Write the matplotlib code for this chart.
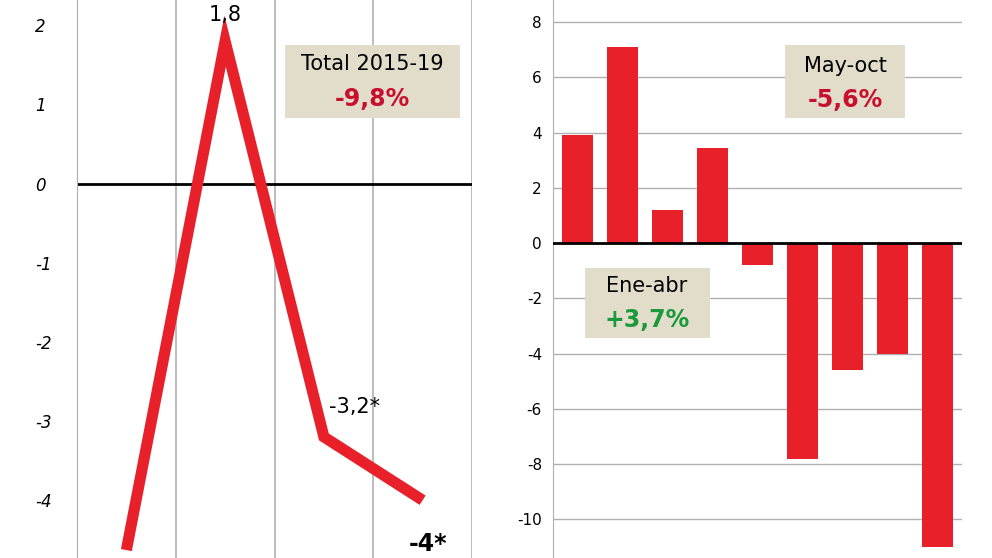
import matplotlib.pyplot as plt
from matplotlib.patches import Rectangle
import numpy as np

line_x = [0.5, 1.5, 2.5, 3.5]
line_y = [-4.63, 1.8, -3.2, -4.0]
left_ticks = [2, 1, 0, -1, -2, -3, -4]

bar_vals = [3.9, 7.1, 1.2, 3.45, -0.8, -7.8, -4.6, -4.0, -11.0]
right_ticks = [8, 6, 4, 2, 0, -2, -4, -6, -8, -10]

red = '#e8202a'
W, H = 992, 558
fig = plt.figure(figsize=(9.92, 5.58), dpi=100)

def box(x0, y0, x1, y1):
    fig.patches.append(Rectangle((x0/W, 1-y1/H), (x1-x0)/W, (y1-y0)/H,
                                 transform=fig.transFigure, fc='#e2dccb', ec='none', zorder=5))

def ftext(x, y, s, **kw):
    fig.text(x/W, 1-y/H, s, ha='center', va='center', zorder=6, **kw)

ax1 = fig.add_axes([77/W, 0, (472-77)/W, 1])
ax1.set_xlim(0, 4)
ax1.set_ylim(-4.73, 2.32)
for x in [1, 2, 3, 4]:
    ax1.axvline(x, color='#b0b0b0', lw=1.2)
ax1.axhline(0, color='black', lw=2)
ax1.plot(line_x, line_y, color=red, lw=8, solid_joinstyle='miter', solid_capstyle='butt')
for s in ax1.spines.values():
    s.set_visible(False)
ax1.spines['left'].set_visible(True)
ax1.spines['left'].set_color('#b0b0b0')
ax1.set_xticks([])
ax1.set_yticks(left_ticks)
ax1.set_yticklabels([str(t) for t in left_ticks], fontstyle='italic', fontsize=12)
ax1.tick_params(axis='y', length=0, pad=30)
for lab in ax1.get_yticklabels():
    lab.set_horizontalalignment('left')
ax1.text(1.5, 2.0, '1,8', ha='center', va='bottom', fontsize=15)
ax1.text(2.55, -2.95, '-3,2*', ha='left', va='bottom', fontsize=15)
ax1.text(3.55, -4.55, '-4*', ha='center', va='center', fontsize=17, fontweight='bold')

ax2 = fig.add_axes([553/W, 0, (962-553)/W, 1])
ax2.set_ylim(-11.4, 8.8)
ax2.set_xlim(-0.55, 8.55)
for t in right_ticks:
    ax2.axhline(t, color='#b0b0b0', lw=1, zorder=0)
ax2.axhline(0, color='black', lw=2, zorder=3)
ax2.bar(np.arange(len(bar_vals)), bar_vals, width=0.68, color=red, zorder=2)
for s in ax2.spines.values():
    s.set_visible(False)
ax2.spines['left'].set_visible(True)
ax2.spines['left'].set_color('#b0b0b0')
ax2.set_xticks([])
ax2.set_yticks(right_ticks)
ax2.set_yticklabels([str(t) for t in right_ticks], fontsize=11)
ax2.tick_params(axis='y', length=0, pad=8)

box(285, 45, 460, 118)
ftext(372, 64, 'Total 2015-19', fontsize=15)
ftext(372, 99, '-9,8%', fontsize=17, fontweight='bold', color='#c8102e')
box(785, 45, 905, 118)
ftext(845, 66, 'May-oct', fontsize=15)
ftext(845, 100, '-5,6%', fontsize=17, fontweight='bold', color='#c8102e')
box(585, 268, 710, 338)
ftext(647, 286, 'Ene-abr', fontsize=15)
ftext(647, 320, '+3,7%', fontsize=17, fontweight='bold', color='#1a9a3a')
fig.savefig('out.png', dpi=100)
